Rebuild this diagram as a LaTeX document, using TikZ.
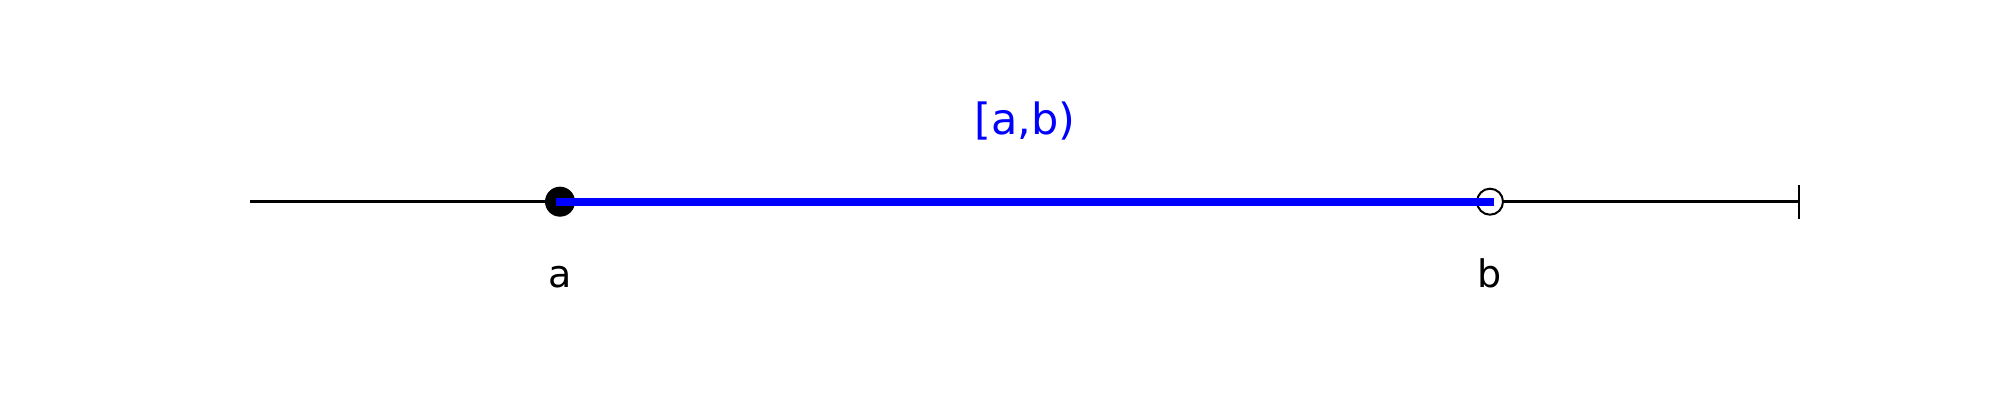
\documentclass[tikz,border=0pt]{standalone}
\usepackage{fontspec}
\setmainfont{DejaVu Sans}
\begin{document}
\begin{tikzpicture}[x=0.5pt,y=-0.5pt,
  axisline/.style={line width=1.5pt,black},
  interval/.style={line width=4pt,blue},
  closedpt/.style={circle,fill=black,inner sep=0pt,minimum size=15pt},
  openpt/.style={circle,draw=black,fill=white,line width=1pt,inner sep=0pt,minimum size=13pt},
  ptlabel/.style={font=\fontsize{19pt}{22pt}\selectfont,anchor=base},
  ivlabel/.style={font=\fontsize{21.5pt}{25pt}\selectfont,text=blue,anchor=base}]
\useasboundingbox (0,0) rectangle (2000,400);
\coordinate (L) at (250,201.7);
\coordinate (R) at (1799,201.7);
\coordinate (bs) at (556,201.7);
\coordinate (be) at (1494,201.7);
\draw[axisline] (L) -- (R);
\draw[line width=0.65pt] (1799,185) -- (1799,219);
\node[closedpt] (a) at (560,201.7) {};
\node[openpt] (b) at (1490,201.7) {};
\draw[interval] (bs) -- (be);
\node[ptlabel] (la) at (560,288) {a};
\node[ptlabel] (lb) at (1490,288) {b};
\node[ivlabel] (iv) at (1025,135) {[a,b)};
\end{tikzpicture}
\end{document}
